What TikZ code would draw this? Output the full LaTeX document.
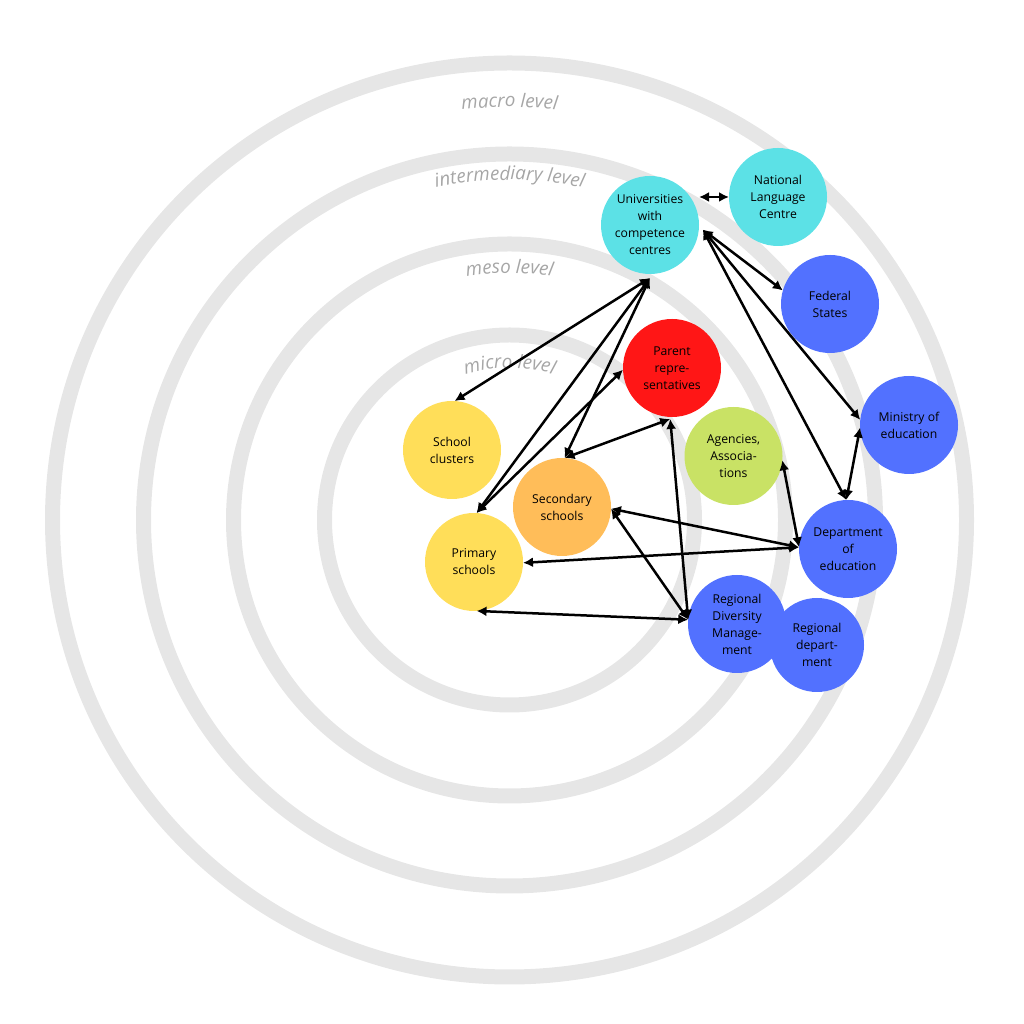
\documentclass[tikz,border=0pt]{standalone}
\usepackage{fontspec}
\setmainfont{Open Sans}
\usetikzlibrary{arrows.meta,calc,decorations.text}
\definecolor{ringgray}{RGB}{230,230,230}
\definecolor{lvlgray}{RGB}{166,166,166}
\definecolor{ccyan}{HTML}{5CE1E6}
\definecolor{cblue}{HTML}{5271FF}
\definecolor{cred}{HTML}{FF1616}
\definecolor{cgreen}{HTML}{C9E265}
\definecolor{cyellow}{HTML}{FFDE59}
\definecolor{corange}{HTML}{FFBD59}
\newcommand\lvlfont{\itshape\fontsize{18.8}{21}\selectfont}
\begin{document}
\begin{tikzpicture}[x=1pt,y=1pt,
  ringline/.style={draw=ringgray,line width=15pt},
  bub/.style={circle,minimum size=98pt,inner sep=0pt,outer sep=0pt,align=center,
    font=\fontsize{12.2}{17}\selectfont,text=black},
  link/.style={{Latex[length=10pt,width=10pt]}-{Latex[length=10pt,width=10pt]},line width=2.5pt,black}]
\useasboundingbox (0,0) rectangle (1024,1024);
\coordinate (o) at (509.5,504);
% rings
\draw[ringline] (o) circle[radius=457];
\draw[ringline] (o) circle[radius=366];
\draw[ringline] (o) circle[radius=276];
\draw[ringline] (o) circle[radius=185];
% level labels
\path[decorate,decoration={text along path,text align=center,text color=lvlgray,text={|\lvlfont|macro level}}]
  ($(o)+(180:413)$) arc[start angle=180,end angle=0,radius=413];
\path[decorate,decoration={text along path,text align=center,text color=lvlgray,text={|\lvlfont|intermediary level}}]
  ($(o)+(180:340)$) arc[start angle=180,end angle=0,radius=340];
\path[decorate,decoration={text along path,text align=center,text color=lvlgray,text={|\lvlfont|meso level}}]
  ($(o)+(180:247)$) arc[start angle=180,end angle=0,radius=247];
\path[decorate,decoration={text along path,text align=center,text color=lvlgray,text={|\lvlfont|micro level}}]
  ($(o)+(180:152)$) arc[start angle=180,end angle=0,radius=152];
% nodes
\node[bub,fill=ccyan] (uni) at (650,799) {Universities\\with\\competence\\centres};
\node[bub,fill=ccyan] (nlc) at (778,827) {National\\Language\\Centre};
\node[bub,fill=cblue] (fs) at (830,720) {Federal\\States};
\node[bub,fill=cblue] (min) at (909,599) {Ministry of\\education};
\node[bub,fill=cred] (par) at (672,656) {Parent\\repre-\\sentatives};
\node[bub,fill=cgreen] (age) at (733.5,568) {Agencies,\\Associa-\\tions};
\node[bub,fill=cyellow] (sc) at (452,574) {School\\clusters};
\node[bub,fill=corange] (sec) at (562,517) {Secondary\\schools};
\node[bub,fill=cyellow] (pri) at (474,462) {Primary\\schools};
\node[bub,fill=cblue] (dep) at (848,475) {Department\\of\\education};
\node[bub,fill=cblue,minimum size=94pt] (reg) at (817,379) {Regional\\depart-\\ment};
\node[bub,fill=cblue] (rdm) at (737,400) {Regional\\Diversity\\Manage-\\ment};
% connector ends
\coordinate (u1) at ($(uni.center)+(-5:53)$);
\coordinate (u2) at ($(uni.center)+(-90:53)$);
\coordinate (p1) at ($(par.center)+(-92:51)$);
% connectors
\draw[link] (uni.east |- nlc.west) -- (nlc.west);
\draw[link] (u1) -- (fs.164);
\draw[link] (u1) -- (min.174);
\draw[link] (u1) -- (dep.92);
\draw[link] (u2) -- (sc.87);
\draw[link] (u2) -- (pri.87);
\draw[link] (u2) -- (sec.87);
\draw[link] (pri.87) -- (par.182);
\draw[link] (p1) -- (sec.87);
\draw[link] (p1) -- (rdm.175);
\draw[link] (age.-5) -- (dep.178);
\draw[link] (min.183) -- (dep.92);
\draw[link] (sec.-2) -- (dep.178);
\draw[link] (sec.-2) -- (rdm.175);
\draw[link] (dep.178) -- (pri.-1);
\draw[link] (pri.-87) -- (rdm.175);
\end{tikzpicture}
\end{document}
